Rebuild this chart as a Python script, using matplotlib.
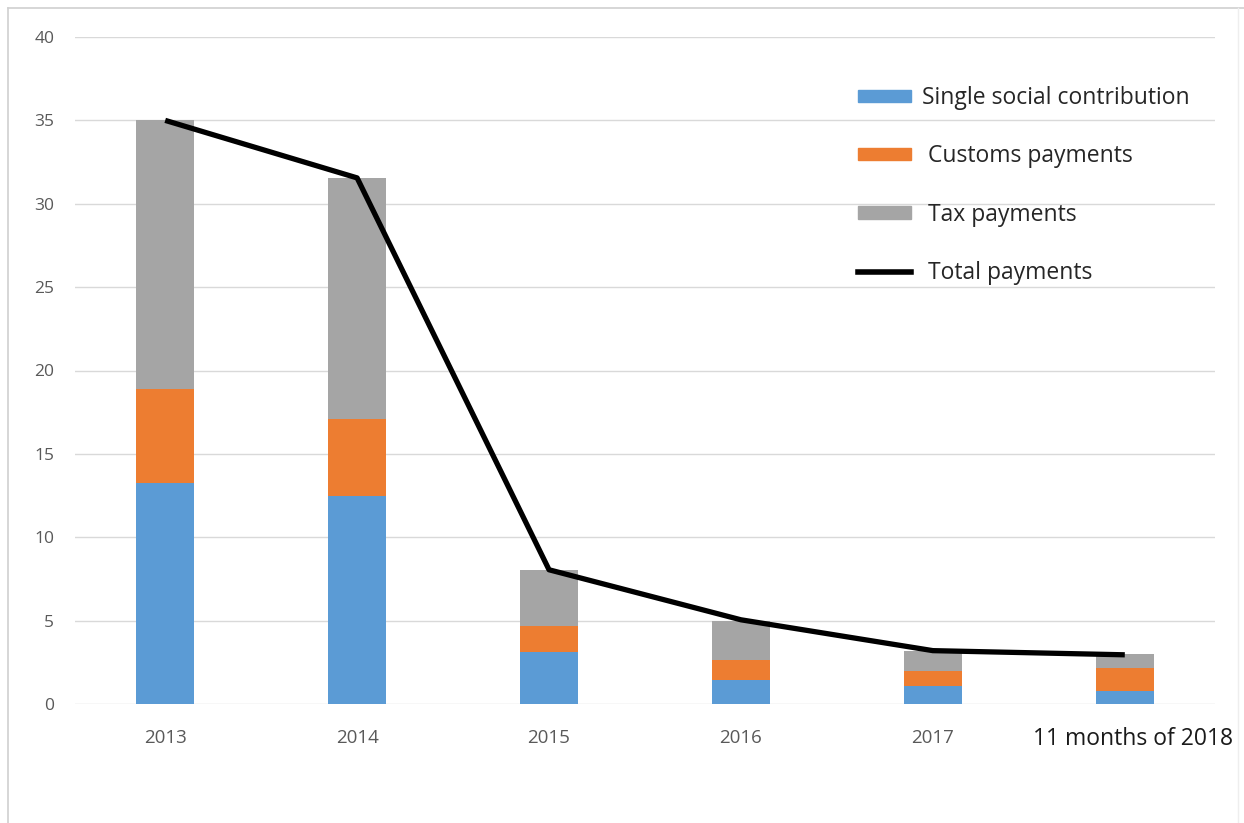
import matplotlib.pyplot as plt
from matplotlib.lines import Line2D
from matplotlib.patches import Patch
import numpy as np

# Payment arrears by year (billions)
years = ["2013", "2014", "2015", "2016", "2017", "11 months of 2018"]
single_social = [13.25, 12.5, 3.1, 1.45, 1.05, 0.75]
customs = [5.65, 4.6, 1.55, 1.2, 0.95, 1.4]
tax = [16.1, 14.45, 3.4, 2.35, 1.2, 0.85]
total = [35.0, 31.55, 8.05, 5.05, 3.2, 2.95]

C_BLUE = "#5b9bd5"
C_ORANGE = "#ed7d31"
C_GRAY = "#a5a5a5"

plt.rcParams["font.family"] = ["Open Sans", "DejaVu Sans"]

fig = plt.figure(figsize=(12.44, 8.23), dpi=100)
ax = fig.add_axes([75 / 1244, 1 - 704 / 823, 1140 / 1244, 667 / 823])

x = np.arange(len(years))
w = 0.30
ss = np.array(single_social)
cu = np.array(customs)
tx = np.array(tax)
ax.bar(x, ss, w, color=C_BLUE, zorder=2)
ax.bar(x, cu, w, bottom=ss, color=C_ORANGE, zorder=2)
ax.bar(x, tx, w, bottom=ss + cu, color=C_GRAY, zorder=2)
ax.plot(x, total, color="black", lw=3.8, zorder=3, solid_capstyle="butt")

ax.set_xlim(-0.47, 5.47)
ax.set_ylim(0, 40)
ax.set_yticks(range(0, 41, 5))
ax.grid(axis="y", color="#d9d9d9", lw=1, zorder=0)
for s in ax.spines.values():
    s.set_visible(False)
ax.tick_params(axis="both", length=0)
ax.tick_params(axis="y", labelsize=12.5, labelcolor="#595959", pad=15)
ax.set_xticks(x)
ax.set_xticklabels(years[:-1] + [""], fontsize=13.5, color="#595959")
ax.tick_params(axis="x", pad=18)
# the last category label is darker, larger and nudged right
ax.annotate(years[-1], xy=(x[-1], 0), xycoords=("data", "axes fraction"),
            xytext=(6, -25.5), textcoords="offset points",
            ha="center", va="center", fontsize=16.5, color="#1a1a1a")

handles = [
    Patch(color=C_BLUE),
    Patch(color=C_ORANGE),
    Patch(color=C_GRAY),
    Line2D([0], [0], color="black", lw=4),
]
labels = ["Single social contribution", " Customs payments", " Tax payments", " Total payments"]
leg = ax.legend(handles, labels, frameon=False, loc="upper left",
                bbox_to_anchor=((858 - 75) / 1140, (704 - 86) / 667),
                borderpad=0, borderaxespad=0,
                fontsize=16.5, labelspacing=1.5,
                handlelength=2.3, handleheight=0.45, handletextpad=0.5)
for t in leg.get_texts():
    t.set_color("#262626")

# outer frame
fig.add_artist(Line2D([8 / 1244, 8 / 1244], [0, 1 - 8 / 823], color="#d0d0d0", lw=1.2,
                      transform=fig.transFigure))
fig.add_artist(Line2D([8 / 1244, 1], [1 - 8 / 823, 1 - 8 / 823], color="#d0d0d0", lw=1.2,
                      transform=fig.transFigure))
fig.add_artist(Line2D([1238 / 1244, 1238 / 1244], [0, 1 - 8 / 823], color="#eeeeee", lw=1,
                      transform=fig.transFigure))

fig.savefig("out.png", dpi=100)
